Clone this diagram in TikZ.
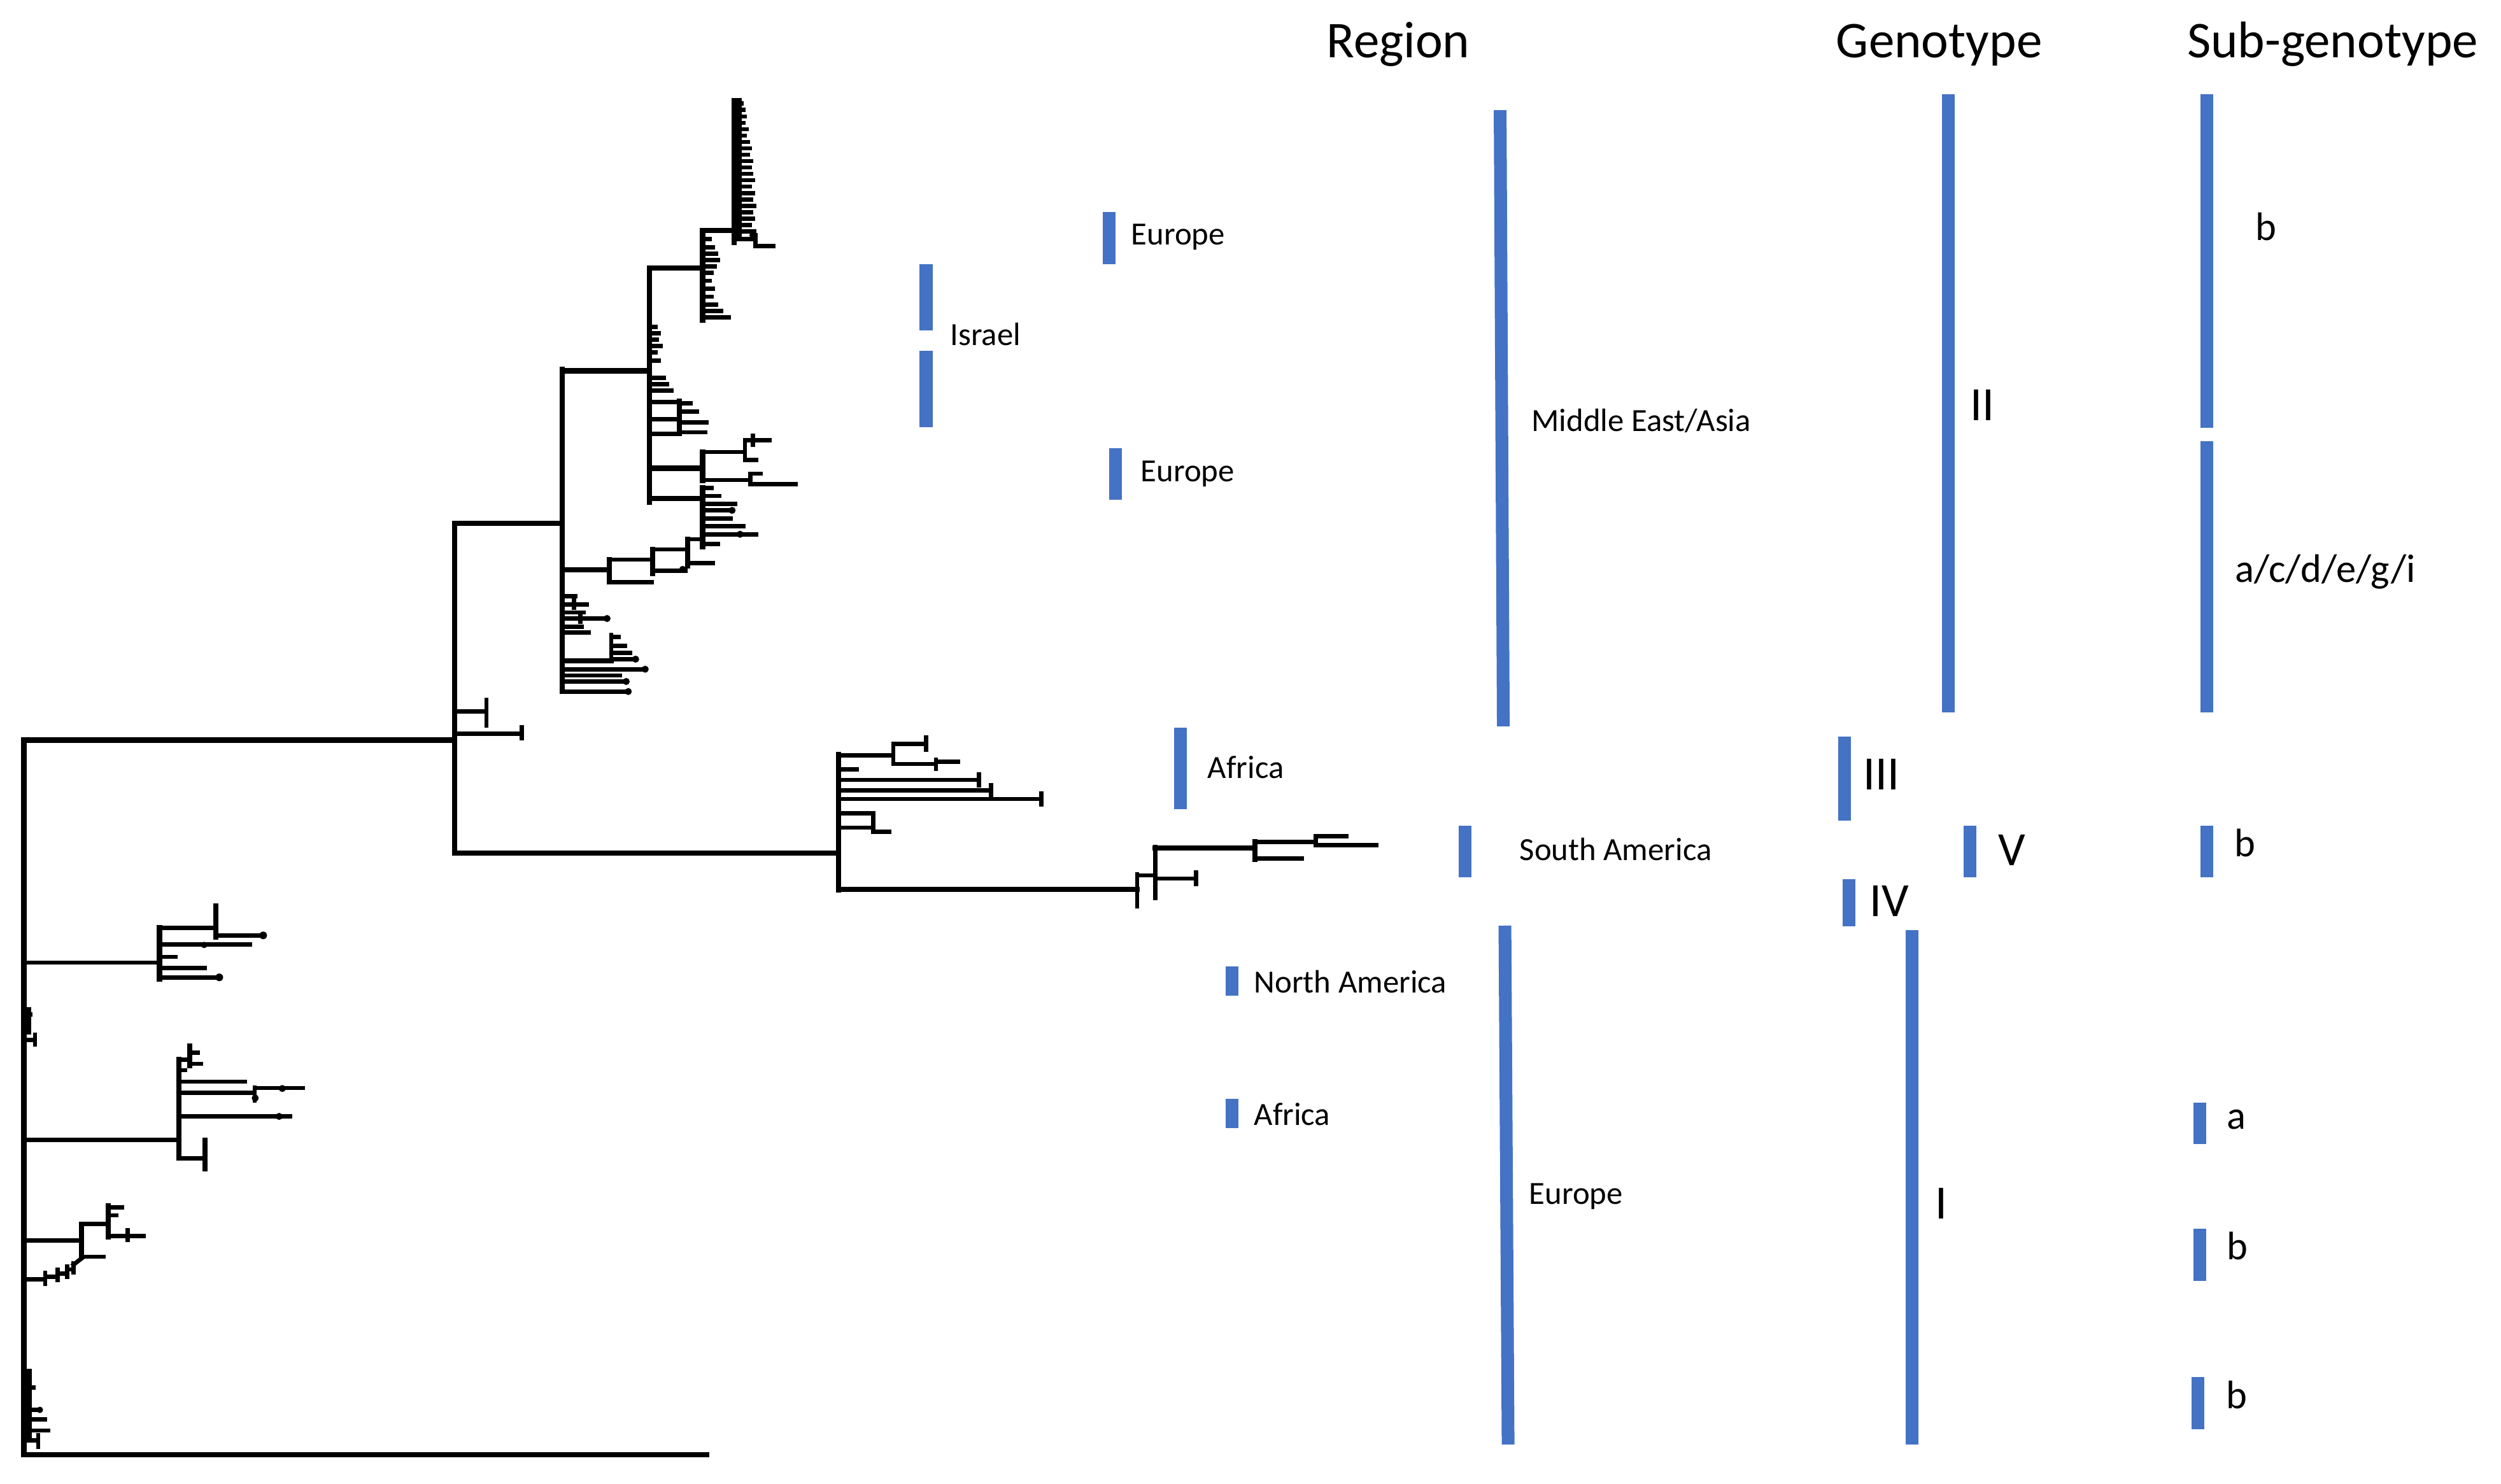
\documentclass[tikz,border=0pt]{standalone}
\usepackage{fontspec}
\setmainfont{Carlito}
\definecolor{obl}{HTML}{4472C4}
\tikzset{
  tr/.style={line width=2.8pt, line cap=rect, line join=miter},
  tt/.style={line width=2.3pt, line cap=rect, line join=miter},
  bar/.style={line width=0.24cm, draw=obl},
  lbl/.style={anchor=base west, inner sep=0pt, font=\fontsize{17.3}{20}\selectfont},
  hdr/.style={anchor=base west, inner sep=0pt, font=\fontsize{27.6}{32}\selectfont},
  gen/.style={anchor=base west, inner sep=0pt, font=\fontsize{25.6}{30}\selectfont},
  sub/.style={anchor=base west, inner sep=0pt, font=\fontsize{21.3}{25}\selectfont},
}
\begin{document}
\begin{tikzpicture}[x=0.03cm,y=-0.03cm]
\useasboundingbox (0,0) rectangle (1568,930.1);

% ---------------- tree: backbone ----------------
\draw[tr] (15,464) -- (15,912);
\draw[tr] (15,912) -- (443,912);
\draw[tr] (15,464) -- (285,464);
\draw[tr] (285,328) -- (285,535);
\draw[tr] (285,328) -- (352.6,328);
\draw[tt] (285,446) -- (305,446);
\draw[tt] (305,439) -- (305,455);
\draw[tt] (285,460) -- (327,460);
\draw[tt] (327,456) -- (327,463);
\draw[tr] (285,535) -- (525.7,535);

% ---------------- clade A (genotype II) ----------------
\draw[tr] (352.6,231.5) -- (352.6,433.6);
\draw[tr] (352.6,232.5) -- (407.2,232.5);
% B
\draw[tr] (407.2,168) -- (407.2,315);
\draw[tr] (407.2,168) -- (440.5,168);
% C
\draw[tr] (440.5,144.6) -- (440.5,200.7);
\draw[tr] (440.5,144.6) -- (460.4,144.6);
% D
\draw[tr] (460.4,63) -- (460.4,152);
\draw[tr] (463.5,63) -- (463.5,148);
\foreach \y/\x in {65/465,69/466,73/467,77/466,81/468,85/467,89/469,93/470,97/469,101/471,105/470,109/471,113/472,117/470,121/472,125/471,129/473,133/471,137/472,141/470,145/473}
  \draw[tt] (460.4,\y) -- (\x,\y);
\draw[tt] (460.4,150) -- (473.7,150);
\draw[tt] (473.7,147.5) -- (473.7,154.3);
\draw[tt] (473.7,154.3) -- (485,154.3);
\fill (472,147.5) circle (2.2);
% C tips
\foreach \y/\x in {150/445,155/447,159/449,163/450,167/448,171/446,176/445,181/447,186/446,191/449,195/452,199/457}
  \draw[tt] (440.5,\y) -- (\x,\y);
% B tips
\foreach \y/\x in {205/411,209/413,213/412,217/414,221/411,226/413,237/416,241/418,245/421}
  \draw[tt] (407.2,\y) -- (\x,\y);
% B sub-clade
\draw[tt] (407.2,252) -- (425.8,252);
\draw[tt] (407.2,263) -- (425.8,263);
\draw[tt] (407.2,272) -- (425.8,272);
\draw[tr] (425.8,251.6) -- (425.8,271.9);
\draw[tt] (425.8,253) -- (433,253);
\draw[tt] (425.8,258) -- (437,258);
\draw[tt] (425.8,265) -- (443,265);
\draw[tt] (425.8,271) -- (442,271);
% E
\draw[tr] (407.2,293.6) -- (440.5,293.6);
\draw[tr] (440.5,283.4) -- (440.5,301.2);
\draw[tt] (440.5,283.4) -- (467,283.4);
\draw[tt] (467,276) -- (467,288.5);
\draw[tt] (467,276) -- (482.4,276);
\draw[tt] (472,273) -- (472,279);
\draw[tt] (467,288.5) -- (474,288.5);
\draw[tt] (440.5,301) -- (470.4,301);
\draw[tt] (470.4,297) -- (470.4,303.5);
\draw[tt] (470.4,303.5) -- (499,303.5);
\draw[tt] (470.4,297) -- (477,297);
% F
\draw[tr] (407.2,312.7) -- (440.5,312.7);
\draw[tr] (440.5,306) -- (440.5,343);
\foreach \y/\x in {306/446,311/451,316/461,320/457,325/458,330/466,335/474,341/450}
  \draw[tt] (440.5,\y) -- (\x,\y);
\fill (459,320) circle (2.2);
\fill (464,335) circle (2.2);
% G-H-I ladder
\draw[tr] (352.6,357.2) -- (381.9,357.2);
\draw[tr] (381.9,350.9) -- (381.9,364.9);
\draw[tt] (381.9,350.9) -- (409.2,350.9);
\draw[tt] (381.9,364.9) -- (408.5,364.9);
\draw[tr] (409.2,344.5) -- (409.2,359.8);
\draw[tt] (409.2,344.5) -- (431.1,344.5);
\draw[tt] (409.2,358) -- (429.8,358);
\draw[tr] (431.1,338.1) -- (431.1,354.7);
\draw[tt] (431.1,338.1) -- (440.5,338.1);
\draw[tt] (431.1,353) -- (447,353);
\fill (428,357) circle (2.2);
% A lower tips
\draw[tt] (352.6,373.8) -- (360.6,373.8);
\draw[tt] (352.6,378.9) -- (368,378.9);
\draw[tt] (360,376) -- (360,381);
\draw[tt] (352.6,384) -- (366,384);
\draw[tt] (352.6,387.8) -- (380.6,387.8);
\draw[tt] (364,385) -- (364,390);
\draw[tt] (352.6,392.9) -- (364.6,392.9);
\draw[tt] (352.6,396.7) -- (369.2,396.7);
\draw[tr] (352.6,414.5) -- (383.2,414.5);
\draw[tt] (383.2,398) -- (383.2,414.5);
\draw[tt] (383.2,399.3) -- (388,399.3);
\draw[tt] (383.2,405) -- (392,405);
\draw[tt] (383.2,409.4) -- (395.2,409.4);
\draw[tt] (383.2,413.3) -- (398.5,413.3);
\draw[tt] (352.6,419.6) -- (404.5,419.6);
\draw[tt] (352.6,423.5) -- (388.5,423.5);
\draw[tt] (352.6,427.3) -- (392.6,427.3);
\draw[tt] (352.6,433.6) -- (393.9,433.6);
\fill (380.6,387.8) circle (2.2);
\fill (398.5,413.3) circle (2.2);
\fill (404.5,419.6) circle (2.2);
\fill (392.6,427.3) circle (2.2);
\fill (393.9,433.6) circle (2.2);

% ---------------- clade J (genotypes III, IV, V) ----------------
\draw[tr] (525.7,473) -- (525.7,558.2);
\draw[tt] (525.7,473.7) -- (560,473.7);
\draw[tt] (560,466.4) -- (560,479);
\draw[tt] (560,466.4) -- (580.5,466.4);
\draw[tt] (580.5,462.5) -- (580.5,470);
\draw[tt] (560,479) -- (586.8,479);
\draw[tt] (586.8,476.5) -- (586.8,482);
\draw[tt] (586.8,477.5) -- (600.8,477.5);
\draw[tt] (525.7,482.4) -- (537.2,482.4);
\draw[tt] (525.7,489) -- (613.6,489);
\draw[tt] (613.6,485.5) -- (613.6,492.5);
\draw[tt] (525.7,495.7) -- (621.2,495.7);
\draw[tt] (621.2,492.2) -- (621.2,499.2);
\draw[tt] (525.7,501) -- (653,501);
\draw[tt] (653,497.5) -- (653,504.5);
\draw[tt] (525.7,510) -- (547.4,510);
\draw[tt] (525.7,518.9) -- (547.4,518.9);
\draw[tt] (547.4,510) -- (547.4,521.6);
\draw[tt] (547.4,521.6) -- (557.6,521.6);
\draw[tr] (525.7,557.6) -- (712.9,557.6);
\draw[tt] (712.9,548.3) -- (712.9,568.2);
\draw[tt] (712.9,548.9) -- (724.3,548.9);
\draw[tt] (724.3,530.9) -- (724.3,562.9);
\draw[tt] (724.3,550.9) -- (749.8,550.9);
\draw[tt] (749.8,547) -- (749.8,554.5);
\draw[tr] (724.3,531.6) -- (786.7,531.6);
\draw[tr] (786.7,527.6) -- (786.7,538.9);
\draw[tt] (786.7,538.3) -- (816,538.3);
\draw[tt] (786.7,528) -- (824.9,528);
\draw[tt] (824.9,524.3) -- (824.9,530);
\draw[tt] (824.9,524.3) -- (844,524.3);
\draw[tt] (824.9,530) -- (863,530);

% ---------------- lower clades (genotype I) ----------------
% P
\draw[tt] (15,603.6) -- (100,603.6);
\draw[tr] (100,581.8) -- (100,613.9);
\draw[tt] (100,581.8) -- (135.2,581.8);
\draw[tr] (135.2,568) -- (135.2,587.5);
\draw[tt] (135.2,586.5) -- (165,586.5);
\fill (165,586.5) circle (2.4);
\draw[tt] (100,592.1) -- (156.6,592.1);
\fill (128,592.5) circle (2);
\draw[tt] (100,600) -- (110,600);
\draw[tt] (100,607) -- (128.4,607);
\draw[tt] (100,612.8) -- (137.5,612.8);
\fill (137.5,612.8) circle (2.4);
% small cluster near root
\draw[tt] (15,636) -- (19,636);
\draw[tr] (18,633) -- (18,647);
\draw[tt] (15,652) -- (22,652);
\draw[tt] (22,649) -- (22,655);
% Q
\draw[tt] (15,714.8) -- (112.3,714.8);
\draw[tr] (112.3,664.3) -- (112.3,726.2);
\draw[tt] (112.3,664.3) -- (118,664.3);
\draw[tr] (119,656) -- (119,668);
\draw[tt] (119,660) -- (124,660);
\draw[tt] (119,667) -- (126,667);
\draw[tt] (112.3,671) -- (116,671);
\draw[tt] (112.3,678.2) -- (153.6,678.2);
\draw[tt] (112.3,685.3) -- (159.7,685.3);
\draw[tt] (159.7,682) -- (159.7,690);
\draw[tt] (159.7,682.2) -- (190,682.2);
\fill (177,682.5) circle (2.2);
\fill (160,688.5) circle (2.2);
\draw[tt] (112.3,699.9) -- (181.8,699.9);
\fill (175,700) circle (2.2);
\draw[tt] (112.3,726.2) -- (128.4,726.2);
\draw[tr] (128.4,714.8) -- (128.4,733);
% R
\draw[tt] (15,777.8) -- (51.2,777.8);
\draw[tr] (51.2,767.5) -- (51.2,788);
\draw[tt] (51.2,767.5) -- (68,767.5);
\draw[tr] (68,756) -- (68,775.5);
\draw[tt] (68,757) -- (76.4,757);
\draw[tt] (68,762) -- (73,762);
\draw[tt] (68,775) -- (90.2,775);
\draw[tt] (80,771.5) -- (80,777.5);
\draw[tt] (51.2,788) -- (65,788);
% ladder
\draw[tt] (15,802) -- (28.3,802);
\draw[tt] (28.3,798) -- (28.3,805);
\draw[tt] (28.3,800.5) -- (36,800.5);
\draw[tt] (36,796) -- (36,802.5);
\draw[tt] (36,798.5) -- (42,798.5);
\draw[tt] (42,794) -- (42,800.5);
\draw[tt] (42,796) -- (46,796);
\draw[tt] (46,792) -- (46,798);
\draw[tt] (46,793) -- (51.2,789);
% bottom cluster near root
\draw[tr] (18.5,860) -- (18.5,903);
\draw[tt] (15,870) -- (21,870);
\draw[tt] (18.5,884) -- (25,884);
\draw[tt] (18.5,890) -- (28,890);
\draw[tt] (18.5,897) -- (30,897);
\draw[tt] (18.5,903) -- (24,903);
\draw[tt] (24,900) -- (24,907);
\fill (25,884) circle (2);

% ---------------- blue bars ----------------
% Region
\draw[bar] (695.5,132.8) -- (695.5,165.5);
\draw[bar] (580.6,165.5) -- (580.6,207);
\draw[bar] (580.6,219.8) -- (580.6,267.7);
\draw[bar] (699.5,280.9) -- (699.5,313.4);
\draw[bar] (940.5,69) -- (942.5,455.4);
\draw[bar] (740,456.4) -- (740,507.4);
\draw[bar] (918.5,517.7) -- (918.5,550);
\draw[bar] (772.3,606) -- (772.3,624.5);
\draw[bar] (772.3,689) -- (772.3,707.5);
\draw[bar] (943.5,580.4) -- (945.5,905.7);
% Genotype
\draw[bar] (1221.6,59) -- (1221.6,446.5);
\draw[bar] (1156.5,462) -- (1156.5,514.6);
\draw[bar] (1235,517.7) -- (1235,550);
\draw[bar] (1159.2,551.2) -- (1159.2,580.7);
\draw[bar] (1198.8,583.2) -- (1198.8,905.7);
% Sub-genotype
\draw[bar] (1383.5,59) -- (1383.5,268.1);
\draw[bar] (1383.5,276.8) -- (1383.5,446.5);
\draw[bar] (1383.4,517.7) -- (1383.4,550);
\draw[bar] (1379.3,691.5) -- (1379.3,717.2);
\draw[bar] (1379.3,770.5) -- (1379.3,803.3);
\draw[bar] (1378,863.5) -- (1378,896.3);

% ---------------- headers ----------------
\node[hdr] (hregion) at (831.5,36) {Region};
\node[hdr] (hgeno) at (1151,36) {Genotype};
\node[hdr] (hsub) at (1371,36) {Sub-genotype};

% ---------------- region labels ----------------
\node[lbl] (eur1) at (709,153.5) {Europe};
\node[lbl] (isr) at (595.5,216.5) {Israel};
\node[lbl] (eur2) at (715,302) {Europe};
\node[lbl] (mea) at (960,270.5) {Middle East/Asia};
\node[lbl] (afr1) at (757,488) {Africa};
\node[lbl] (sam) at (952.5,539.5) {South America};
\node[lbl] (nam) at (786,622.5) {North America};
\node[lbl] (afr2) at (786,705.5) {Africa};
\node[lbl] (eur3) at (958.5,755) {Europe};

% ---------------- genotype labels ----------------
\node[gen] (g2) at (1235,263.7) {II};
\node[gen] (g3) at (1168,495) {III};
\node[gen] (g5) at (1252.5,542.5) {V};
\node[gen] (g4) at (1172,574.5) {IV};
\node[gen] (g1) at (1213,764.3) {I};

% ---------------- sub-genotype labels ----------------
\node[sub] (s1) at (1414,150.5) {b};
\node[sub] (s2) at (1401,365) {a/c/d/e/g/i};
\node[sub] (s3) at (1400.5,537) {b};
\node[sub] (s4) at (1396,708) {a};
\node[sub] (s5) at (1396,789.6) {b};
\node[sub] (s6) at (1395.5,883) {b};
\end{tikzpicture}
\end{document}
